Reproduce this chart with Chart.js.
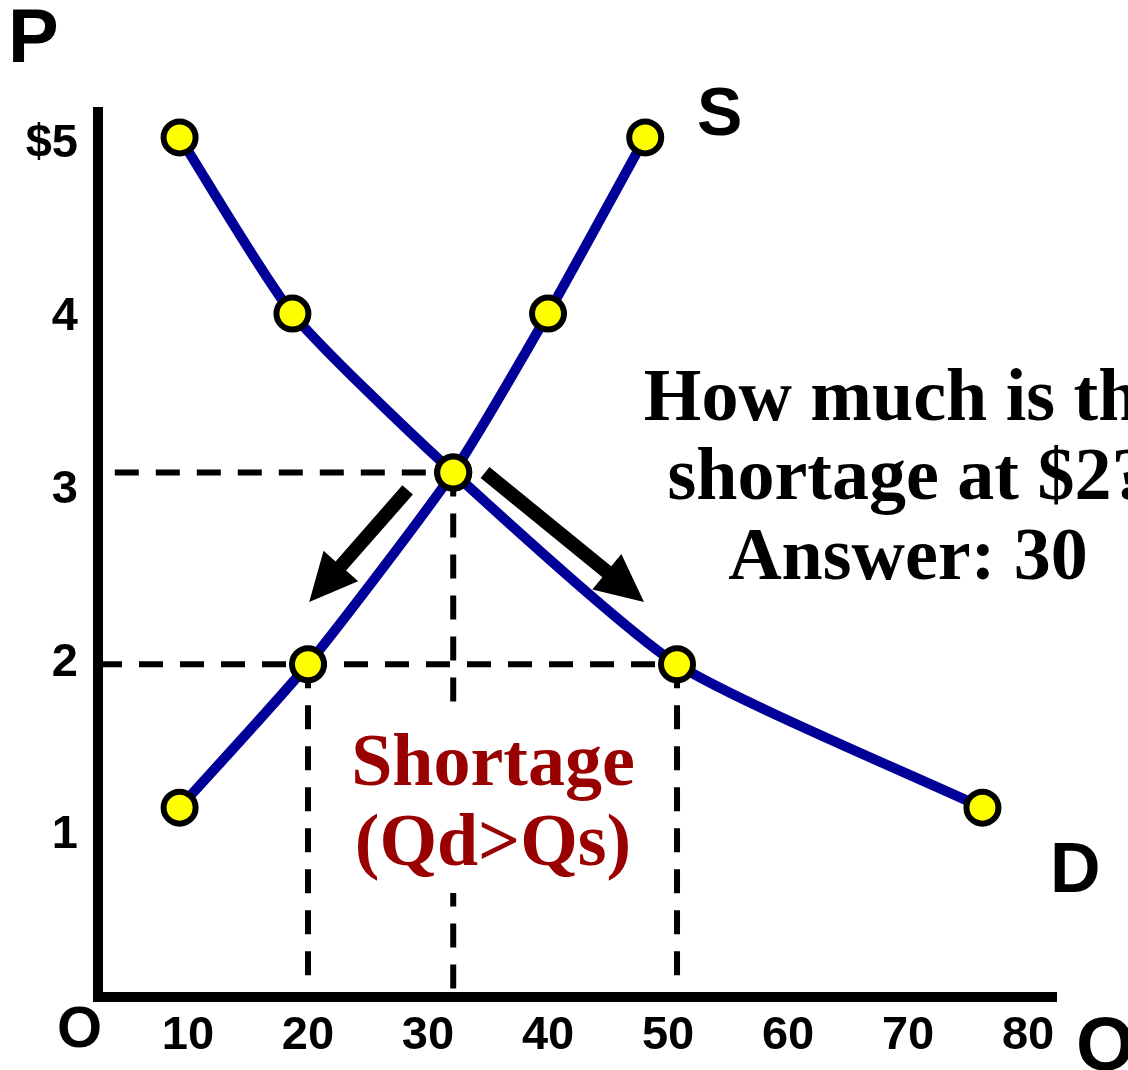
<!DOCTYPE html>
<html>
<head>
<meta charset="utf-8">
<script src="https://cdn.jsdelivr.net/npm/chart.js@4.4.0/dist/chart.umd.min.js"></script>
<style>
  html, body { margin: 0; padding: 0; background: #fff; }
</style>
</head>
<body>
<canvas id="sdChart" width="1128" height="1070"></canvas>
<script>
// quantities (Q) and prices (P)
const supplyQ = [9.3, 20, 32.1, 40, 48.1];
const supplyP = [1.16, 1.99, 3.10, 4.02, 5.04];
const demandQ = [9.3, 18.7, 32.1, 50.75, 76.2];
const demandP = [5.04, 4.02, 3.10, 1.99, 1.16];

const qTicks = [10, 20, 30, 40, 50, 60, 70, 80];
const qTickLabels = ['10', '20', '30', '40', '50', '60', '70', '80'];
const pTicks = [1, 2, 3, 4, 5];
const pTickLabels = ['1', '2', '3', '4', '$5'];

// dashed guide lines: [q1, p1, q2, p2]
const guides = [
  [3.9, 3.10, 32.1, 3.10],
  [2.5, 1.99, 50.75, 1.99],
  [20, 1.99, 20, 0.064],
  [32.1, 3.10, 32.1, 0.064],
  [50.75, 1.99, 50.75, 0.064]
];

// movement arrows: [qFrom, pFrom, qTo, pTo]
const arrows = [
  [28.3, 3.00, 20.1, 2.35],
  [34.75, 3.10, 48.0, 2.35]
];

const questionLines = ['How much is the', 'shortage at $2?', 'Answer: 30'];
const shortageLines = ['Shortage', '(Qd>Qs)'];

const SANS = '"Liberation Sans", Arial, sans-serif';
const SERIF = '"Liberation Serif", "Times New Roman", serif';

const toPts = (xs, ys) => xs.map((x, i) => ({ x: x, y: ys[i] }));

const guideSets = guides.map(g => ({
  data: [{ x: g[0], y: g[1] }, { x: g[2], y: g[3] }],
  showLine: true,
  borderColor: '#000',
  borderWidth: 6,
  borderDash: [24, 17],
  pointRadius: 0,
  order: 3
}));

function drawArrow(ctx, x1, y1, x2, y2) {
  const shaft = 14, headW = 46, headL = 48;
  const ang = Math.atan2(y2 - y1, x2 - x1);
  const len = Math.hypot(x2 - x1, y2 - y1);
  ctx.save();
  ctx.translate(x1, y1);
  ctx.rotate(ang);
  ctx.beginPath();
  ctx.moveTo(0, -shaft / 2);
  ctx.lineTo(len - headL, -shaft / 2);
  ctx.lineTo(len - headL, -headW / 2);
  ctx.lineTo(len, 0);
  ctx.lineTo(len - headL, headW / 2);
  ctx.lineTo(len - headL, shaft / 2);
  ctx.lineTo(0, shaft / 2);
  ctx.closePath();
  ctx.fillStyle = '#000';
  ctx.fill();
  ctx.restore();
}

const extras = {
  id: 'extras',
  afterDatasetsDraw(chart) {
    const ctx = chart.ctx;
    const xs = chart.scales.x, ys = chart.scales.y;

    arrows.forEach(a => {
      drawArrow(ctx, xs.getPixelForValue(a[0]), ys.getPixelForValue(a[1]),
                xs.getPixelForValue(a[2]), ys.getPixelForValue(a[3]));
    });

    // label box for the shortage text hides the dashed line behind it
    ctx.save();
    ctx.fillStyle = '#fff';
    ctx.fillRect(345, 714, 295, 179);
    ctx.fillStyle = '#990000';
    ctx.font = 'bold 74px ' + SERIF;
    ctx.textAlign = 'center';
    ctx.textBaseline = 'alphabetic';
    ctx.fillText(shortageLines[0], 493, 785);
    ctx.fillText(shortageLines[1], 493, 865);

    ctx.fillStyle = '#000';
    ctx.fillText(questionLines[0], 908, 420);
    ctx.fillText(questionLines[1], 908, 499);
    ctx.fillText(questionLines[2], 908, 579);

    ctx.textAlign = 'left';
    ctx.font = 'bold 76px ' + SANS;
    ctx.fillText('P', 8, 62);
    ctx.fillText('Q', 1076, 1070);
    ctx.font = 'bold 68px ' + SANS;
    ctx.fillText('S', 697, 135);
    ctx.font = 'bold 70px ' + SANS;
    ctx.fillText('D', 1050, 892);
    ctx.font = 'bold 58px ' + SANS;
    ctx.fillText('O', 57, 1047);
    ctx.restore();
  }
};

const curveStyle = {
  showLine: true,
  borderColor: '#000099',
  borderWidth: 10,
  tension: 0.2,
  pointRadius: 16,
  pointBorderWidth: 6,
  pointBackgroundColor: '#ffff00',
  pointBorderColor: '#000'
};

new Chart(document.getElementById('sdChart'), {
  type: 'scatter',
  data: {
    datasets: [
      Object.assign({ label: 'S', data: toPts(supplyQ, supplyP), order: 1 }, curveStyle),
      Object.assign({ label: 'D', data: toPts(demandQ, demandP), order: 2 }, curveStyle),
      ...guideSets
    ]
  },
  options: {
    responsive: false,
    animation: false,
    events: [],
    layout: { padding: { top: 112, right: 72, left: 0, bottom: 0 } },
    plugins: { legend: { display: false }, tooltip: { enabled: false } },
    scales: {
      x: {
        type: 'linear',
        min: 2.5,
        max: 82.33,
        grid: { display: false, drawTicks: false },
        border: { display: true, width: 10, color: '#000' },
        afterBuildTicks: s => { s.ticks = qTicks.map(v => ({ value: v })); },
        afterFit: s => { s.height = 73; },
        ticks: {
          padding: 11,
          color: '#000',
          maxRotation: 0,
          autoSkip: false,
          font: { family: SANS, size: 47, weight: 'bold' },
          callback: (v, i) => qTickLabels[i]
        }
      },
      y: {
        type: 'linear',
        min: 0.064,
        max: 5.187,
        grid: { display: false, drawTicks: false },
        border: { display: true, width: 10, color: '#000' },
        afterBuildTicks: s => { s.ticks = pTicks.map(v => ({ value: v })); },
        afterFit: s => { s.width = 98; },
        ticks: {
          padding: 20,
          color: '#000',
          autoSkip: false,
          font: { family: SANS, size: 47, weight: 'bold' },
          callback: (v, i) => pTickLabels[i]
        }
      }
    }
  },
  plugins: [extras]
});
</script>
</body>
</html>
